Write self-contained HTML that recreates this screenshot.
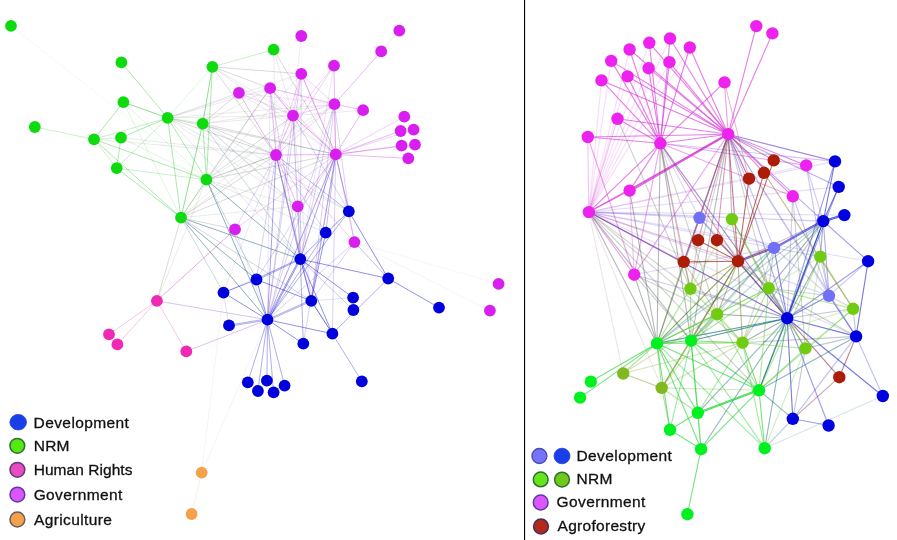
<!DOCTYPE html>
<html lang="en"><head><meta charset="utf-8"><title>Network</title>
<style>
html,body{margin:0;padding:0;background:#fff}
body{width:897px;height:540px;overflow:hidden;position:relative;font-family:"Liberation Sans",sans-serif}
svg{position:absolute;left:0;top:0;display:block}
.lg{position:absolute;font-size:15.5px;line-height:18px;color:#111;white-space:nowrap;letter-spacing:0.3px;-webkit-text-stroke:0.3px #111}
</style></head><body>
<svg width="897" height="540" viewBox="0 0 897 540">
<rect width="897" height="540" fill="#fff"/>

<g fill="none" stroke-width="0.9">
<line x1="11" y1="25.9" x2="206.4" y2="179.7" stroke="rgb(40,190,40)" stroke-opacity="0.08"/>
<line x1="121.4" y1="62.4" x2="167.6" y2="117.9" stroke="rgb(40,190,40)" stroke-opacity="0.42"/>
<line x1="212.4" y1="66.8" x2="273.6" y2="49.7" stroke="rgb(40,190,40)" stroke-opacity="0.28"/>
<line x1="212.4" y1="66.8" x2="167.6" y2="117.9" stroke="rgb(40,190,40)" stroke-opacity="0.16"/>
<line x1="212.4" y1="66.8" x2="202.7" y2="123.6" stroke="rgb(40,190,40)" stroke-opacity="0.58"/>
<line x1="212.4" y1="66.8" x2="206.4" y2="179.7" stroke="rgb(40,190,40)" stroke-opacity="0.42"/>
<line x1="212.4" y1="66.8" x2="301.3" y2="73.8" stroke="rgb(105,105,115)" stroke-opacity="0.28"/>
<line x1="212.4" y1="66.8" x2="270.1" y2="88.2" stroke="rgb(105,105,115)" stroke-opacity="0.28"/>
<line x1="273.6" y1="49.7" x2="335.7" y2="154.4" stroke="rgb(105,105,115)" stroke-opacity="0.28"/>
<line x1="123.4" y1="102.2" x2="167.6" y2="117.9" stroke="rgb(40,190,40)" stroke-opacity="0.58"/>
<line x1="123.4" y1="102.2" x2="94" y2="139.3" stroke="rgb(40,190,40)" stroke-opacity="0.42"/>
<line x1="123.4" y1="102.2" x2="181" y2="217.7" stroke="rgb(40,190,40)" stroke-opacity="0.16"/>
<line x1="123.4" y1="102.2" x2="206.4" y2="179.7" stroke="rgb(40,190,40)" stroke-opacity="0.16"/>
<line x1="34.8" y1="127" x2="94" y2="139.3" stroke="rgb(40,190,40)" stroke-opacity="0.28"/>
<line x1="94" y1="139.3" x2="121" y2="137.7" stroke="rgb(40,190,40)" stroke-opacity="0.28"/>
<line x1="94" y1="139.3" x2="167.6" y2="117.9" stroke="rgb(40,190,40)" stroke-opacity="0.28"/>
<line x1="94" y1="139.3" x2="206.4" y2="179.7" stroke="rgb(40,190,40)" stroke-opacity="0.42"/>
<line x1="94" y1="139.3" x2="116.7" y2="168.1" stroke="rgb(40,190,40)" stroke-opacity="0.28"/>
<line x1="94" y1="139.3" x2="181" y2="217.7" stroke="rgb(40,190,40)" stroke-opacity="0.42"/>
<line x1="121" y1="137.7" x2="167.6" y2="117.9" stroke="rgb(40,190,40)" stroke-opacity="0.42"/>
<line x1="121" y1="137.7" x2="116.7" y2="168.1" stroke="rgb(40,190,40)" stroke-opacity="0.42"/>
<line x1="121" y1="137.7" x2="206.4" y2="179.7" stroke="rgb(40,190,40)" stroke-opacity="0.16"/>
<line x1="167.6" y1="117.9" x2="116.7" y2="168.1" stroke="rgb(40,190,40)" stroke-opacity="0.28"/>
<line x1="167.6" y1="117.9" x2="206.4" y2="179.7" stroke="rgb(40,190,40)" stroke-opacity="0.42"/>
<line x1="167.6" y1="117.9" x2="181" y2="217.7" stroke="rgb(40,190,40)" stroke-opacity="0.42"/>
<line x1="167.6" y1="117.9" x2="202.7" y2="123.6" stroke="rgb(40,190,40)" stroke-opacity="0.28"/>
<line x1="202.7" y1="123.6" x2="206.4" y2="179.7" stroke="rgb(40,190,40)" stroke-opacity="0.42"/>
<line x1="202.7" y1="123.6" x2="181" y2="217.7" stroke="rgb(40,190,40)" stroke-opacity="0.58"/>
<line x1="116.7" y1="168.1" x2="206.4" y2="179.7" stroke="rgb(40,190,40)" stroke-opacity="0.28"/>
<line x1="116.7" y1="168.1" x2="181" y2="217.7" stroke="rgb(40,190,40)" stroke-opacity="0.42"/>
<line x1="206.4" y1="179.7" x2="181" y2="217.7" stroke="rgb(40,190,40)" stroke-opacity="0.42"/>
<line x1="167.6" y1="117.9" x2="276" y2="155" stroke="rgb(105,105,115)" stroke-opacity="0.28"/>
<line x1="167.6" y1="117.9" x2="335.7" y2="154.4" stroke="rgb(105,105,115)" stroke-opacity="0.28"/>
<line x1="167.6" y1="117.9" x2="293" y2="115.6" stroke="rgb(105,105,115)" stroke-opacity="0.16"/>
<line x1="167.6" y1="117.9" x2="270.1" y2="88.2" stroke="rgb(105,105,115)" stroke-opacity="0.16"/>
<line x1="202.7" y1="123.6" x2="276" y2="155" stroke="rgb(105,105,115)" stroke-opacity="0.28"/>
<line x1="202.7" y1="123.6" x2="335.7" y2="154.4" stroke="rgb(105,105,115)" stroke-opacity="0.28"/>
<line x1="202.7" y1="123.6" x2="238.9" y2="92.8" stroke="rgb(105,105,115)" stroke-opacity="0.28"/>
<line x1="202.7" y1="123.6" x2="293" y2="115.6" stroke="rgb(105,105,115)" stroke-opacity="0.16"/>
<line x1="206.4" y1="179.7" x2="270.1" y2="88.2" stroke="rgb(105,105,115)" stroke-opacity="0.28"/>
<line x1="206.4" y1="179.7" x2="276" y2="155" stroke="rgb(105,105,115)" stroke-opacity="0.42"/>
<line x1="206.4" y1="179.7" x2="335.7" y2="154.4" stroke="rgb(105,105,115)" stroke-opacity="0.28"/>
<line x1="206.4" y1="179.7" x2="293" y2="115.6" stroke="rgb(105,105,115)" stroke-opacity="0.28"/>
<line x1="206.4" y1="179.7" x2="297.7" y2="206.3" stroke="rgb(105,105,115)" stroke-opacity="0.16"/>
<line x1="206.4" y1="179.7" x2="300.3" y2="259.1" stroke="rgb(40,100,120)" stroke-opacity="0.58"/>
<line x1="206.4" y1="179.7" x2="267.5" y2="319.7" stroke="rgb(40,100,120)" stroke-opacity="0.58"/>
<line x1="206.4" y1="179.7" x2="256.5" y2="279.5" stroke="rgb(40,100,120)" stroke-opacity="0.28"/>
<line x1="206.4" y1="179.7" x2="156.9" y2="300.9" stroke="rgb(107,110,82)" stroke-opacity="0.16"/>
<line x1="206.4" y1="179.7" x2="325.7" y2="232.7" stroke="rgb(40,100,120)" stroke-opacity="0.16"/>
<line x1="181" y1="217.7" x2="276" y2="155" stroke="rgb(105,105,115)" stroke-opacity="0.28"/>
<line x1="181" y1="217.7" x2="335.7" y2="154.4" stroke="rgb(105,105,115)" stroke-opacity="0.28"/>
<line x1="181" y1="217.7" x2="235" y2="229.4" stroke="rgb(105,105,115)" stroke-opacity="0.28"/>
<line x1="181" y1="217.7" x2="300.3" y2="259.1" stroke="rgb(40,100,120)" stroke-opacity="0.58"/>
<line x1="181" y1="217.7" x2="256.5" y2="279.5" stroke="rgb(40,100,120)" stroke-opacity="0.58"/>
<line x1="181" y1="217.7" x2="267.5" y2="319.7" stroke="rgb(40,100,120)" stroke-opacity="0.58"/>
<line x1="181" y1="217.7" x2="223.5" y2="292.6" stroke="rgb(40,100,120)" stroke-opacity="0.28"/>
<line x1="181" y1="217.7" x2="156.9" y2="300.9" stroke="rgb(107,110,82)" stroke-opacity="0.28"/>
<line x1="181" y1="217.7" x2="311.3" y2="300.9" stroke="rgb(40,100,120)" stroke-opacity="0.28"/>
<line x1="181" y1="217.7" x2="297.7" y2="206.3" stroke="rgb(105,105,115)" stroke-opacity="0.16"/>
<line x1="121" y1="137.7" x2="276" y2="155" stroke="rgb(105,105,115)" stroke-opacity="0.16"/>
<line x1="94" y1="139.3" x2="276" y2="155" stroke="rgb(105,105,115)" stroke-opacity="0.16"/>
<line x1="301.3" y1="36" x2="293" y2="115.6" stroke="rgb(195,65,215)" stroke-opacity="0.16"/>
<line x1="301.3" y1="73.8" x2="335.7" y2="154.4" stroke="rgb(195,65,215)" stroke-opacity="0.58"/>
<line x1="301.3" y1="73.8" x2="276" y2="155" stroke="rgb(195,65,215)" stroke-opacity="0.28"/>
<line x1="301.3" y1="73.8" x2="334.4" y2="104.2" stroke="rgb(195,65,215)" stroke-opacity="0.28"/>
<line x1="334" y1="65.7" x2="334.4" y2="104.2" stroke="rgb(195,65,215)" stroke-opacity="0.16"/>
<line x1="334" y1="65.7" x2="276" y2="155" stroke="rgb(195,65,215)" stroke-opacity="0.28"/>
<line x1="381.2" y1="51.4" x2="334.4" y2="104.2" stroke="rgb(195,65,215)" stroke-opacity="0.42"/>
<line x1="399.3" y1="30.6" x2="381.2" y2="51.4" stroke="rgb(195,65,215)" stroke-opacity="0.16"/>
<line x1="334.4" y1="104.2" x2="363.1" y2="110.2" stroke="rgb(195,65,215)" stroke-opacity="0.28"/>
<line x1="334.4" y1="104.2" x2="335.7" y2="154.4" stroke="rgb(195,65,215)" stroke-opacity="0.42"/>
<line x1="334.4" y1="104.2" x2="276" y2="155" stroke="rgb(195,65,215)" stroke-opacity="0.28"/>
<line x1="334.4" y1="104.2" x2="293" y2="115.6" stroke="rgb(195,65,215)" stroke-opacity="0.28"/>
<line x1="363.1" y1="110.2" x2="335.7" y2="154.4" stroke="rgb(195,65,215)" stroke-opacity="0.42"/>
<line x1="363.1" y1="110.2" x2="293" y2="115.6" stroke="rgb(195,65,215)" stroke-opacity="0.16"/>
<line x1="270.1" y1="88.2" x2="293" y2="115.6" stroke="rgb(195,65,215)" stroke-opacity="0.58"/>
<line x1="270.1" y1="88.2" x2="276" y2="155" stroke="rgb(195,65,215)" stroke-opacity="0.42"/>
<line x1="270.1" y1="88.2" x2="335.7" y2="154.4" stroke="rgb(195,65,215)" stroke-opacity="0.28"/>
<line x1="238.9" y1="92.8" x2="276" y2="155" stroke="rgb(195,65,215)" stroke-opacity="0.42"/>
<line x1="238.9" y1="92.8" x2="335.7" y2="154.4" stroke="rgb(195,65,215)" stroke-opacity="0.16"/>
<line x1="293" y1="115.6" x2="276" y2="155" stroke="rgb(195,65,215)" stroke-opacity="0.42"/>
<line x1="293" y1="115.6" x2="335.7" y2="154.4" stroke="rgb(195,65,215)" stroke-opacity="0.58"/>
<line x1="293" y1="115.6" x2="297.7" y2="206.3" stroke="rgb(195,65,215)" stroke-opacity="0.16"/>
<line x1="276" y1="155" x2="335.7" y2="154.4" stroke="rgb(195,65,215)" stroke-opacity="0.42"/>
<line x1="335.7" y1="154.4" x2="404.3" y2="116.6" stroke="rgb(195,65,215)" stroke-opacity="0.28"/>
<line x1="335.7" y1="154.4" x2="400.6" y2="131" stroke="rgb(195,65,215)" stroke-opacity="0.42"/>
<line x1="335.7" y1="154.4" x2="413.6" y2="129.6" stroke="rgb(195,65,215)" stroke-opacity="0.28"/>
<line x1="335.7" y1="154.4" x2="401.6" y2="145.7" stroke="rgb(195,65,215)" stroke-opacity="0.42"/>
<line x1="335.7" y1="154.4" x2="415" y2="144.7" stroke="rgb(195,65,215)" stroke-opacity="0.28"/>
<line x1="335.7" y1="154.4" x2="408.3" y2="158.4" stroke="rgb(195,65,215)" stroke-opacity="0.42"/>
<line x1="335.7" y1="154.4" x2="297.7" y2="206.3" stroke="rgb(195,65,215)" stroke-opacity="0.42"/>
<line x1="276" y1="155" x2="297.7" y2="206.3" stroke="rgb(195,65,215)" stroke-opacity="0.42"/>
<line x1="335.7" y1="154.4" x2="235" y2="229.4" stroke="rgb(195,65,215)" stroke-opacity="0.28"/>
<line x1="335.7" y1="154.4" x2="348.8" y2="211.3" stroke="rgb(105,70,200)" stroke-opacity="0.58"/>
<line x1="276" y1="155" x2="348.8" y2="211.3" stroke="rgb(105,70,200)" stroke-opacity="0.42"/>
<line x1="335.7" y1="154.4" x2="300.3" y2="259.1" stroke="rgb(105,70,200)" stroke-opacity="0.58"/>
<line x1="335.7" y1="154.4" x2="267.5" y2="319.7" stroke="rgb(105,70,200)" stroke-opacity="0.58"/>
<line x1="335.7" y1="154.4" x2="256.5" y2="279.5" stroke="rgb(105,70,200)" stroke-opacity="0.28"/>
<line x1="335.7" y1="154.4" x2="311.3" y2="300.9" stroke="rgb(105,70,200)" stroke-opacity="0.42"/>
<line x1="335.7" y1="154.4" x2="325.7" y2="232.7" stroke="rgb(105,70,200)" stroke-opacity="0.42"/>
<line x1="335.7" y1="154.4" x2="303.3" y2="343.7" stroke="rgb(105,70,200)" stroke-opacity="0.28"/>
<line x1="335.7" y1="154.4" x2="332.4" y2="333.7" stroke="rgb(105,70,200)" stroke-opacity="0.28"/>
<line x1="335.7" y1="154.4" x2="354.4" y2="242.1" stroke="rgb(195,65,215)" stroke-opacity="0.28"/>
<line x1="276" y1="155" x2="300.3" y2="259.1" stroke="rgb(105,70,200)" stroke-opacity="0.58"/>
<line x1="276" y1="155" x2="267.5" y2="319.7" stroke="rgb(105,70,200)" stroke-opacity="0.58"/>
<line x1="276" y1="155" x2="256.5" y2="279.5" stroke="rgb(105,70,200)" stroke-opacity="0.28"/>
<line x1="276" y1="155" x2="311.3" y2="300.9" stroke="rgb(105,70,200)" stroke-opacity="0.42"/>
<line x1="276" y1="155" x2="325.7" y2="232.7" stroke="rgb(105,70,200)" stroke-opacity="0.28"/>
<line x1="276" y1="155" x2="354.4" y2="242.1" stroke="rgb(195,65,215)" stroke-opacity="0.28"/>
<line x1="276" y1="155" x2="223.5" y2="292.6" stroke="rgb(105,70,200)" stroke-opacity="0.16"/>
<line x1="276" y1="155" x2="235" y2="229.4" stroke="rgb(195,65,215)" stroke-opacity="0.28"/>
<line x1="293" y1="115.6" x2="300.3" y2="259.1" stroke="rgb(105,70,200)" stroke-opacity="0.28"/>
<line x1="293" y1="115.6" x2="267.5" y2="319.7" stroke="rgb(105,70,200)" stroke-opacity="0.28"/>
<line x1="334.4" y1="104.2" x2="300.3" y2="259.1" stroke="rgb(105,70,200)" stroke-opacity="0.28"/>
<line x1="334.4" y1="104.2" x2="267.5" y2="319.7" stroke="rgb(105,70,200)" stroke-opacity="0.28"/>
<line x1="270.1" y1="88.2" x2="267.5" y2="319.7" stroke="rgb(105,70,200)" stroke-opacity="0.16"/>
<line x1="297.7" y1="206.3" x2="300.3" y2="259.1" stroke="rgb(105,70,200)" stroke-opacity="0.28"/>
<line x1="297.7" y1="206.3" x2="267.5" y2="319.7" stroke="rgb(105,70,200)" stroke-opacity="0.28"/>
<line x1="297.7" y1="206.3" x2="311.3" y2="300.9" stroke="rgb(105,70,200)" stroke-opacity="0.16"/>
<line x1="235" y1="229.4" x2="156.9" y2="300.9" stroke="rgb(193,30,178)" stroke-opacity="0.42"/>
<line x1="235" y1="229.4" x2="267.5" y2="319.7" stroke="rgb(105,70,200)" stroke-opacity="0.16"/>
<line x1="354.4" y1="242.1" x2="388.2" y2="278.5" stroke="rgb(105,70,200)" stroke-opacity="0.42"/>
<line x1="354.4" y1="242.1" x2="348.8" y2="211.3" stroke="rgb(105,70,200)" stroke-opacity="0.28"/>
<line x1="354.4" y1="242.1" x2="311.3" y2="300.9" stroke="rgb(105,70,200)" stroke-opacity="0.28"/>
<line x1="354.4" y1="242.1" x2="267.5" y2="319.7" stroke="rgb(105,70,200)" stroke-opacity="0.28"/>
<line x1="354.4" y1="242.1" x2="498.6" y2="283.9" stroke="rgb(195,65,215)" stroke-opacity="0.08"/>
<line x1="354.4" y1="242.1" x2="489.9" y2="310.6" stroke="rgb(195,65,215)" stroke-opacity="0.08"/>
<line x1="348.8" y1="211.3" x2="325.7" y2="232.7" stroke="rgb(40,40,210)" stroke-opacity="0.28"/>
<line x1="348.8" y1="211.3" x2="388.2" y2="278.5" stroke="rgb(40,40,210)" stroke-opacity="0.58"/>
<line x1="348.8" y1="211.3" x2="300.3" y2="259.1" stroke="rgb(40,40,210)" stroke-opacity="0.28"/>
<line x1="325.7" y1="232.7" x2="300.3" y2="259.1" stroke="rgb(40,40,210)" stroke-opacity="0.28"/>
<line x1="325.7" y1="232.7" x2="311.3" y2="300.9" stroke="rgb(40,40,210)" stroke-opacity="0.58"/>
<line x1="325.7" y1="232.7" x2="267.5" y2="319.7" stroke="rgb(40,40,210)" stroke-opacity="0.42"/>
<line x1="348.8" y1="211.3" x2="267.5" y2="319.7" stroke="rgb(40,40,210)" stroke-opacity="0.42"/>
<line x1="299.9" y1="258.3" x2="256.4" y2="279.3" stroke="rgb(40,40,210)" stroke-opacity="0.42"/>
<line x1="300.4" y1="259.3" x2="256.9" y2="280.3" stroke="rgb(40,40,210)" stroke-opacity="0.42"/>
<line x1="300.3" y1="259.1" x2="388.2" y2="278.5" stroke="rgb(40,40,210)" stroke-opacity="0.58"/>
<line x1="300.3" y1="259.1" x2="311.3" y2="300.9" stroke="rgb(40,40,210)" stroke-opacity="0.58"/>
<line x1="300.3" y1="259.1" x2="353.1" y2="297.6" stroke="rgb(40,40,210)" stroke-opacity="0.58"/>
<line x1="300.3" y1="259.1" x2="353.4" y2="310" stroke="rgb(40,40,210)" stroke-opacity="0.28"/>
<line x1="299.5" y1="258.7" x2="267.3" y2="319.6" stroke="rgb(40,40,210)" stroke-opacity="0.58"/>
<line x1="300.5" y1="259.2" x2="268.3" y2="320.1" stroke="rgb(40,40,210)" stroke-opacity="0.58"/>
<line x1="300.3" y1="259.1" x2="332.4" y2="333.7" stroke="rgb(40,40,210)" stroke-opacity="0.58"/>
<line x1="300.3" y1="259.1" x2="303.3" y2="343.7" stroke="rgb(40,40,210)" stroke-opacity="0.42"/>
<line x1="300.3" y1="259.1" x2="223.5" y2="292.6" stroke="rgb(40,40,210)" stroke-opacity="0.16"/>
<line x1="256.5" y1="279.5" x2="223.5" y2="292.6" stroke="rgb(40,40,210)" stroke-opacity="0.58"/>
<line x1="256.5" y1="279.5" x2="311.3" y2="300.9" stroke="rgb(40,40,210)" stroke-opacity="0.58"/>
<line x1="256.5" y1="279.5" x2="267.5" y2="319.7" stroke="rgb(40,40,210)" stroke-opacity="0.58"/>
<line x1="223.5" y1="292.6" x2="267.5" y2="319.7" stroke="rgb(40,40,210)" stroke-opacity="0.58"/>
<line x1="223.5" y1="292.6" x2="229" y2="325.4" stroke="rgb(40,40,210)" stroke-opacity="0.16"/>
<line x1="267.4" y1="318.8" x2="229" y2="325.1" stroke="rgb(40,40,210)" stroke-opacity="0.42"/>
<line x1="267.5" y1="320" x2="229.1" y2="326.3" stroke="rgb(40,40,210)" stroke-opacity="0.42"/>
<line x1="267.9" y1="320.5" x2="311.4" y2="301.1" stroke="rgb(40,40,210)" stroke-opacity="0.42"/>
<line x1="267.4" y1="319.5" x2="310.9" y2="300.1" stroke="rgb(40,40,210)" stroke-opacity="0.42"/>
<line x1="267.5" y1="319.7" x2="332.4" y2="333.7" stroke="rgb(40,40,210)" stroke-opacity="0.58"/>
<line x1="267.5" y1="319.7" x2="303.3" y2="343.7" stroke="rgb(40,40,210)" stroke-opacity="0.58"/>
<line x1="267.5" y1="319.7" x2="247.8" y2="382.3" stroke="rgb(40,40,210)" stroke-opacity="0.42"/>
<line x1="267.5" y1="319.7" x2="257.9" y2="391" stroke="rgb(40,40,210)" stroke-opacity="0.42"/>
<line x1="267.5" y1="319.7" x2="266.9" y2="380.6" stroke="rgb(40,40,210)" stroke-opacity="0.42"/>
<line x1="267.5" y1="319.7" x2="273.6" y2="392.3" stroke="rgb(40,40,210)" stroke-opacity="0.42"/>
<line x1="267.5" y1="319.7" x2="284.6" y2="385.6" stroke="rgb(40,40,210)" stroke-opacity="0.42"/>
<line x1="267.5" y1="319.7" x2="156.9" y2="300.9" stroke="rgb(101,17,170)" stroke-opacity="0.28"/>
<line x1="267.5" y1="319.7" x2="186.3" y2="351.4" stroke="rgb(101,17,170)" stroke-opacity="0.28"/>
<line x1="311.3" y1="300.9" x2="332.4" y2="333.7" stroke="rgb(40,40,210)" stroke-opacity="0.75"/>
<line x1="311.3" y1="300.9" x2="353.1" y2="297.6" stroke="rgb(40,40,210)" stroke-opacity="0.16"/>
<line x1="332.4" y1="333.7" x2="388.2" y2="278.5" stroke="rgb(40,40,210)" stroke-opacity="0.42"/>
<line x1="332.4" y1="333.7" x2="361.8" y2="381.3" stroke="rgb(40,40,210)" stroke-opacity="0.42"/>
<line x1="388.2" y1="278.5" x2="439" y2="307.6" stroke="rgb(40,40,210)" stroke-opacity="0.58"/>
<line x1="167.6" y1="117.9" x2="334.4" y2="104.2" stroke="rgb(105,105,115)" stroke-opacity="0.16"/>
<line x1="202.7" y1="123.6" x2="334.4" y2="104.2" stroke="rgb(105,105,115)" stroke-opacity="0.16"/>
<line x1="167.6" y1="117.9" x2="301.3" y2="73.8" stroke="rgb(105,105,115)" stroke-opacity="0.16"/>
<line x1="202.7" y1="123.6" x2="270.1" y2="88.2" stroke="rgb(105,105,115)" stroke-opacity="0.16"/>
<line x1="167.6" y1="117.9" x2="238.9" y2="92.8" stroke="rgb(105,105,115)" stroke-opacity="0.16"/>
<line x1="238.9" y1="92.8" x2="293" y2="115.6" stroke="rgb(195,65,215)" stroke-opacity="0.28"/>
<line x1="238.9" y1="92.8" x2="334.4" y2="104.2" stroke="rgb(195,65,215)" stroke-opacity="0.16"/>
<line x1="270.1" y1="88.2" x2="334.4" y2="104.2" stroke="rgb(195,65,215)" stroke-opacity="0.28"/>
<line x1="270.1" y1="88.2" x2="363.1" y2="110.2" stroke="rgb(195,65,215)" stroke-opacity="0.16"/>
<line x1="301.3" y1="73.8" x2="293" y2="115.6" stroke="rgb(195,65,215)" stroke-opacity="0.28"/>
<line x1="334" y1="65.7" x2="293" y2="115.6" stroke="rgb(195,65,215)" stroke-opacity="0.28"/>
<line x1="334" y1="65.7" x2="335.7" y2="154.4" stroke="rgb(195,65,215)" stroke-opacity="0.28"/>
<line x1="301.3" y1="73.8" x2="300.3" y2="259.1" stroke="rgb(105,70,200)" stroke-opacity="0.28"/>
<line x1="301.3" y1="73.8" x2="267.5" y2="319.7" stroke="rgb(105,70,200)" stroke-opacity="0.28"/>
<line x1="270.1" y1="88.2" x2="300.3" y2="259.1" stroke="rgb(105,70,200)" stroke-opacity="0.28"/>
<line x1="334" y1="65.7" x2="300.3" y2="259.1" stroke="rgb(105,70,200)" stroke-opacity="0.16"/>
<line x1="293" y1="115.6" x2="311.3" y2="300.9" stroke="rgb(105,70,200)" stroke-opacity="0.16"/>
<line x1="293" y1="115.6" x2="348.8" y2="211.3" stroke="rgb(105,70,200)" stroke-opacity="0.28"/>
<line x1="334.4" y1="104.2" x2="348.8" y2="211.3" stroke="rgb(105,70,200)" stroke-opacity="0.28"/>
<line x1="334.4" y1="104.2" x2="311.3" y2="300.9" stroke="rgb(105,70,200)" stroke-opacity="0.28"/>
<line x1="202.7" y1="123.6" x2="348.8" y2="211.3" stroke="rgb(40,100,120)" stroke-opacity="0.16"/>
<line x1="167.6" y1="117.9" x2="348.8" y2="211.3" stroke="rgb(40,100,120)" stroke-opacity="0.16"/>
<line x1="202.7" y1="123.6" x2="300.3" y2="259.1" stroke="rgb(40,100,120)" stroke-opacity="0.28"/>
<line x1="167.6" y1="117.9" x2="300.3" y2="259.1" stroke="rgb(40,100,120)" stroke-opacity="0.16"/>
<line x1="202.7" y1="123.6" x2="325.7" y2="232.7" stroke="rgb(40,100,120)" stroke-opacity="0.16"/>
<line x1="167.6" y1="117.9" x2="297.7" y2="206.3" stroke="rgb(105,105,115)" stroke-opacity="0.16"/>
<line x1="202.7" y1="123.6" x2="297.7" y2="206.3" stroke="rgb(105,105,115)" stroke-opacity="0.16"/>
<line x1="181" y1="217.7" x2="293" y2="115.6" stroke="rgb(105,105,115)" stroke-opacity="0.16"/>
<line x1="181" y1="217.7" x2="334.4" y2="104.2" stroke="rgb(105,105,115)" stroke-opacity="0.16"/>
<line x1="181" y1="217.7" x2="270.1" y2="88.2" stroke="rgb(105,105,115)" stroke-opacity="0.16"/>
<line x1="206.4" y1="179.7" x2="334.4" y2="104.2" stroke="rgb(105,105,115)" stroke-opacity="0.16"/>
<line x1="206.4" y1="179.7" x2="301.3" y2="73.8" stroke="rgb(105,105,115)" stroke-opacity="0.16"/>
<line x1="212.4" y1="66.8" x2="293" y2="115.6" stroke="rgb(105,105,115)" stroke-opacity="0.16"/>
<line x1="212.4" y1="66.8" x2="276" y2="155" stroke="rgb(105,105,115)" stroke-opacity="0.28"/>
<line x1="212.4" y1="66.8" x2="335.7" y2="154.4" stroke="rgb(105,105,115)" stroke-opacity="0.16"/>
<line x1="273.6" y1="49.7" x2="293" y2="115.6" stroke="rgb(105,105,115)" stroke-opacity="0.16"/>
<line x1="273.6" y1="49.7" x2="276" y2="155" stroke="rgb(105,105,115)" stroke-opacity="0.16"/>
<line x1="156.9" y1="300.9" x2="109" y2="334.4" stroke="rgb(202,35,153)" stroke-opacity="0.28"/>
<line x1="156.9" y1="300.9" x2="117.4" y2="344.4" stroke="rgb(202,35,153)" stroke-opacity="0.28"/>
<line x1="156.9" y1="300.9" x2="186.3" y2="351.4" stroke="rgb(202,35,153)" stroke-opacity="0.28"/>
<line x1="201.7" y1="472.6" x2="267.5" y2="319.7" stroke="rgb(104,68,125)" stroke-opacity="0.08"/>
<line x1="201.7" y1="472.6" x2="223.5" y2="292.6" stroke="rgb(104,68,125)" stroke-opacity="0.08"/>
<line x1="201.7" y1="472.6" x2="191.6" y2="514" stroke="rgb(208,136,62)" stroke-opacity="0.16"/>
</g>
<g fill="none" stroke-width="1.1">
<line x1="670" y1="38.5" x2="660.3" y2="143.3" stroke="rgb(214,50,214)" stroke-opacity="0.626"/>
<line x1="670" y1="38.5" x2="728.2" y2="134.2" stroke="rgb(214,50,214)" stroke-opacity="0.626"/>
<line x1="670" y1="38.5" x2="588.8" y2="212.1" stroke="rgb(214,50,214)" stroke-opacity="0.173"/>
<line x1="649.3" y1="42.8" x2="660.3" y2="143.3" stroke="rgb(214,50,214)" stroke-opacity="0.626"/>
<line x1="649.3" y1="42.8" x2="728.2" y2="134.2" stroke="rgb(214,50,214)" stroke-opacity="0.626"/>
<line x1="649.3" y1="42.8" x2="588.8" y2="212.1" stroke="rgb(214,50,214)" stroke-opacity="0.173"/>
<line x1="629.6" y1="49.5" x2="660.3" y2="143.3" stroke="rgb(214,50,214)" stroke-opacity="0.626"/>
<line x1="629.6" y1="49.5" x2="728.2" y2="134.2" stroke="rgb(214,50,214)" stroke-opacity="0.626"/>
<line x1="629.6" y1="49.5" x2="588.8" y2="212.1" stroke="rgb(214,50,214)" stroke-opacity="0.173"/>
<line x1="689.8" y1="47.5" x2="660.3" y2="143.3" stroke="rgb(214,50,214)" stroke-opacity="0.626"/>
<line x1="689.8" y1="47.5" x2="728.2" y2="134.2" stroke="rgb(214,50,214)" stroke-opacity="0.626"/>
<line x1="689.8" y1="47.5" x2="588.8" y2="212.1" stroke="rgb(214,50,214)" stroke-opacity="0.173"/>
<line x1="611.2" y1="60.9" x2="660.3" y2="143.3" stroke="rgb(214,50,214)" stroke-opacity="0.626"/>
<line x1="611.2" y1="60.9" x2="728.2" y2="134.2" stroke="rgb(214,50,214)" stroke-opacity="0.626"/>
<line x1="611.2" y1="60.9" x2="588.8" y2="212.1" stroke="rgb(214,50,214)" stroke-opacity="0.173"/>
<line x1="669.4" y1="62.2" x2="660.3" y2="143.3" stroke="rgb(214,50,214)" stroke-opacity="0.626"/>
<line x1="669.4" y1="62.2" x2="728.2" y2="134.2" stroke="rgb(214,50,214)" stroke-opacity="0.626"/>
<line x1="669.4" y1="62.2" x2="588.8" y2="212.1" stroke="rgb(214,50,214)" stroke-opacity="0.173"/>
<line x1="648.6" y1="68.2" x2="660.3" y2="143.3" stroke="rgb(214,50,214)" stroke-opacity="0.626"/>
<line x1="648.6" y1="68.2" x2="728.2" y2="134.2" stroke="rgb(214,50,214)" stroke-opacity="0.626"/>
<line x1="648.6" y1="68.2" x2="588.8" y2="212.1" stroke="rgb(214,50,214)" stroke-opacity="0.173"/>
<line x1="627.6" y1="76.4" x2="660.3" y2="143.3" stroke="rgb(214,50,214)" stroke-opacity="0.626"/>
<line x1="627.6" y1="76.4" x2="728.2" y2="134.2" stroke="rgb(214,50,214)" stroke-opacity="0.626"/>
<line x1="627.6" y1="76.4" x2="588.8" y2="212.1" stroke="rgb(214,50,214)" stroke-opacity="0.173"/>
<line x1="601.5" y1="80.4" x2="660.3" y2="143.3" stroke="rgb(214,50,214)" stroke-opacity="0.626"/>
<line x1="601.5" y1="80.4" x2="728.2" y2="134.2" stroke="rgb(214,50,214)" stroke-opacity="0.626"/>
<line x1="601.5" y1="80.4" x2="588.8" y2="212.1" stroke="rgb(214,50,214)" stroke-opacity="0.173"/>
<line x1="724.5" y1="82.4" x2="660.3" y2="143.3" stroke="rgb(214,50,214)" stroke-opacity="0.626"/>
<line x1="724.5" y1="82.4" x2="728.2" y2="134.2" stroke="rgb(214,50,214)" stroke-opacity="0.454"/>
<line x1="724.5" y1="82.4" x2="749" y2="178.7" stroke="rgb(174,26,103)" stroke-opacity="0.302"/>
<line x1="756.3" y1="26.1" x2="728.2" y2="134.2" stroke="rgb(214,50,214)" stroke-opacity="0.626"/>
<line x1="772.4" y1="33.4" x2="728.2" y2="134.2" stroke="rgb(214,50,214)" stroke-opacity="0.626"/>
<line x1="617.5" y1="118.8" x2="660.3" y2="143.3" stroke="rgb(214,50,214)" stroke-opacity="0.626"/>
<line x1="617.5" y1="118.8" x2="728.2" y2="134.2" stroke="rgb(214,50,214)" stroke-opacity="0.626"/>
<line x1="617.5" y1="118.8" x2="588.8" y2="212.1" stroke="rgb(214,50,214)" stroke-opacity="0.302"/>
<line x1="617.5" y1="118.8" x2="690.4" y2="288.8" stroke="rgb(100,105,90)" stroke-opacity="0.302"/>
<line x1="587.8" y1="137" x2="660.3" y2="143.3" stroke="rgb(214,50,214)" stroke-opacity="0.626"/>
<line x1="587.8" y1="137" x2="728.2" y2="134.2" stroke="rgb(214,50,214)" stroke-opacity="0.626"/>
<line x1="587.8" y1="137" x2="588.8" y2="212.1" stroke="rgb(214,50,214)" stroke-opacity="0.302"/>
<line x1="587.8" y1="137" x2="634.2" y2="274.7" stroke="rgb(214,50,214)" stroke-opacity="0.454"/>
<line x1="660.3" y1="143.3" x2="728.2" y2="134.2" stroke="rgb(214,50,214)" stroke-opacity="0.626"/>
<line x1="660.3" y1="143.3" x2="629.6" y2="190.6" stroke="rgb(214,50,214)" stroke-opacity="0.626"/>
<line x1="660.3" y1="143.3" x2="588.8" y2="212.1" stroke="rgb(214,50,214)" stroke-opacity="0.626"/>
<line x1="727.8" y1="133.5" x2="629.5" y2="190.4" stroke="rgb(214,50,214)" stroke-opacity="0.81"/>
<line x1="728.3" y1="134.5" x2="630" y2="191.4" stroke="rgb(214,50,214)" stroke-opacity="0.81"/>
<line x1="728.2" y1="134.2" x2="588.8" y2="212.1" stroke="rgb(214,50,214)" stroke-opacity="0.626"/>
<line x1="588.8" y1="212.1" x2="629.6" y2="190.6" stroke="rgb(214,50,214)" stroke-opacity="0.626"/>
<line x1="660.3" y1="143.3" x2="657" y2="343.4" stroke="rgb(90,100,100)" stroke-opacity="0.454"/>
<line x1="660.3" y1="143.3" x2="691.1" y2="340.7" stroke="rgb(90,100,100)" stroke-opacity="0.454"/>
<line x1="660.3" y1="143.3" x2="738" y2="261.2" stroke="rgb(174,26,103)" stroke-opacity="0.454"/>
<line x1="660.3" y1="143.3" x2="787.2" y2="318.2" stroke="rgb(105,70,205)" stroke-opacity="0.626"/>
<line x1="660.3" y1="143.3" x2="634.2" y2="274.7" stroke="rgb(214,50,214)" stroke-opacity="0.454"/>
<line x1="660.3" y1="143.3" x2="699.5" y2="217.8" stroke="rgb(140,120,235)" stroke-opacity="0.302"/>
<line x1="660.3" y1="143.3" x2="690.4" y2="288.8" stroke="rgb(100,105,90)" stroke-opacity="0.302"/>
<line x1="660.3" y1="143.3" x2="683.7" y2="261.9" stroke="rgb(174,26,103)" stroke-opacity="0.302"/>
<line x1="660.3" y1="143.3" x2="717.2" y2="314.2" stroke="rgb(100,105,90)" stroke-opacity="0.302"/>
<line x1="660.3" y1="143.3" x2="792.8" y2="196.3" stroke="rgb(214,50,214)" stroke-opacity="0.454"/>
<line x1="660.3" y1="143.3" x2="806.2" y2="165.4" stroke="rgb(214,50,214)" stroke-opacity="0.454"/>
<line x1="660.3" y1="143.3" x2="835" y2="161.4" stroke="rgb(105,70,205)" stroke-opacity="0.302"/>
<line x1="728.2" y1="134.2" x2="835" y2="161.4" stroke="rgb(105,70,205)" stroke-opacity="0.626"/>
<line x1="728.2" y1="134.2" x2="806.2" y2="165.4" stroke="rgb(214,50,214)" stroke-opacity="0.626"/>
<line x1="728.2" y1="134.2" x2="838.7" y2="186.9" stroke="rgb(105,70,205)" stroke-opacity="0.454"/>
<line x1="728.2" y1="134.2" x2="792.8" y2="196.3" stroke="rgb(214,50,214)" stroke-opacity="0.626"/>
<line x1="728.2" y1="134.2" x2="823.3" y2="221.1" stroke="rgb(105,70,205)" stroke-opacity="0.454"/>
<line x1="728.2" y1="134.2" x2="773.7" y2="160.4" stroke="rgb(174,26,103)" stroke-opacity="0.454"/>
<line x1="728.2" y1="134.2" x2="764" y2="172.8" stroke="rgb(174,26,103)" stroke-opacity="0.454"/>
<line x1="728.2" y1="134.2" x2="749" y2="178.7" stroke="rgb(174,26,103)" stroke-opacity="0.626"/>
<line x1="728.2" y1="134.2" x2="731.9" y2="219.1" stroke="rgb(100,105,90)" stroke-opacity="0.454"/>
<line x1="728.2" y1="134.2" x2="699.5" y2="217.8" stroke="rgb(140,120,235)" stroke-opacity="0.454"/>
<line x1="728.2" y1="134.2" x2="698.1" y2="240.2" stroke="rgb(174,26,103)" stroke-opacity="0.454"/>
<line x1="728.2" y1="134.2" x2="716.9" y2="240.2" stroke="rgb(174,26,103)" stroke-opacity="0.454"/>
<line x1="728.2" y1="134.2" x2="683.7" y2="261.9" stroke="rgb(174,26,103)" stroke-opacity="0.454"/>
<line x1="728.2" y1="134.2" x2="738" y2="261.2" stroke="rgb(174,26,103)" stroke-opacity="0.626"/>
<line x1="728.2" y1="134.2" x2="657" y2="343.4" stroke="rgb(90,100,100)" stroke-opacity="0.454"/>
<line x1="728.2" y1="134.2" x2="691.1" y2="340.7" stroke="rgb(90,100,100)" stroke-opacity="0.454"/>
<line x1="728.2" y1="134.2" x2="690.4" y2="288.8" stroke="rgb(100,105,90)" stroke-opacity="0.302"/>
<line x1="728.2" y1="134.2" x2="787.2" y2="318.2" stroke="rgb(105,70,205)" stroke-opacity="0.454"/>
<line x1="728.2" y1="134.2" x2="774" y2="247.9" stroke="rgb(140,120,235)" stroke-opacity="0.454"/>
<line x1="728.2" y1="134.2" x2="829" y2="295.8" stroke="rgb(140,120,235)" stroke-opacity="0.302"/>
<line x1="728.2" y1="134.2" x2="856.1" y2="336.4" stroke="rgb(105,70,205)" stroke-opacity="0.302"/>
<line x1="728.2" y1="134.2" x2="634.2" y2="274.7" stroke="rgb(214,50,214)" stroke-opacity="0.454"/>
<line x1="728.2" y1="134.2" x2="768.7" y2="288.1" stroke="rgb(100,105,90)" stroke-opacity="0.302"/>
<line x1="806.2" y1="165.4" x2="829" y2="295.8" stroke="rgb(140,120,235)" stroke-opacity="0.454"/>
<line x1="806.2" y1="165.4" x2="823.3" y2="221.1" stroke="rgb(105,70,205)" stroke-opacity="0.302"/>
<line x1="792.8" y1="196.3" x2="829" y2="295.8" stroke="rgb(140,120,235)" stroke-opacity="0.454"/>
<line x1="792.8" y1="196.3" x2="805.4" y2="348.4" stroke="rgb(100,105,90)" stroke-opacity="0.302"/>
<line x1="792.8" y1="196.3" x2="787.2" y2="318.2" stroke="rgb(105,70,205)" stroke-opacity="0.302"/>
<line x1="588.8" y1="212.1" x2="699.5" y2="217.8" stroke="rgb(140,120,235)" stroke-opacity="0.302"/>
<line x1="588.8" y1="212.1" x2="774" y2="247.9" stroke="rgb(140,120,235)" stroke-opacity="0.302"/>
<line x1="588.8" y1="212.1" x2="823.3" y2="221.1" stroke="rgb(105,70,205)" stroke-opacity="0.302"/>
<line x1="588.8" y1="212.1" x2="829" y2="295.8" stroke="rgb(140,120,235)" stroke-opacity="0.302"/>
<line x1="588.8" y1="212.1" x2="844.4" y2="215.1" stroke="rgb(105,70,205)" stroke-opacity="0.173"/>
<line x1="588.8" y1="212.1" x2="838.7" y2="186.9" stroke="rgb(105,70,205)" stroke-opacity="0.173"/>
<line x1="588.8" y1="212.1" x2="868.1" y2="261.2" stroke="rgb(105,70,205)" stroke-opacity="0.173"/>
<line x1="588.8" y1="212.1" x2="856.1" y2="336.4" stroke="rgb(105,70,205)" stroke-opacity="0.173"/>
<line x1="588.8" y1="212.1" x2="787.2" y2="318.2" stroke="rgb(105,70,205)" stroke-opacity="0.81"/>
<line x1="588.8" y1="212.1" x2="657" y2="343.4" stroke="rgb(90,100,100)" stroke-opacity="0.454"/>
<line x1="588.8" y1="212.1" x2="691.1" y2="340.7" stroke="rgb(90,100,100)" stroke-opacity="0.454"/>
<line x1="588.8" y1="212.1" x2="634.2" y2="274.7" stroke="rgb(214,50,214)" stroke-opacity="0.454"/>
<line x1="588.8" y1="212.1" x2="623.2" y2="373.5" stroke="rgb(155,92,114)" stroke-opacity="0.173"/>
<line x1="588.8" y1="212.1" x2="661.7" y2="387.9" stroke="rgb(155,92,114)" stroke-opacity="0.173"/>
<line x1="588.8" y1="212.1" x2="690.4" y2="288.8" stroke="rgb(100,105,90)" stroke-opacity="0.302"/>
<line x1="588.8" y1="212.1" x2="683.7" y2="261.9" stroke="rgb(174,26,103)" stroke-opacity="0.302"/>
<line x1="588.8" y1="212.1" x2="738" y2="261.2" stroke="rgb(174,26,103)" stroke-opacity="0.302"/>
<line x1="588.8" y1="212.1" x2="742.5" y2="342.7" stroke="rgb(100,105,90)" stroke-opacity="0.302"/>
<line x1="588.8" y1="212.1" x2="759" y2="390.3" stroke="rgb(90,100,100)" stroke-opacity="0.302"/>
<line x1="588.8" y1="212.1" x2="835" y2="161.4" stroke="rgb(105,70,205)" stroke-opacity="0.173"/>
<line x1="588.8" y1="212.1" x2="806.2" y2="165.4" stroke="rgb(214,50,214)" stroke-opacity="0.173"/>
<line x1="629.6" y1="190.6" x2="657" y2="343.4" stroke="rgb(90,100,100)" stroke-opacity="0.454"/>
<line x1="629.6" y1="190.6" x2="634.2" y2="274.7" stroke="rgb(214,50,214)" stroke-opacity="0.302"/>
<line x1="634.2" y1="274.7" x2="657" y2="343.4" stroke="rgb(90,100,100)" stroke-opacity="0.454"/>
<line x1="634.2" y1="274.7" x2="691.1" y2="340.7" stroke="rgb(90,100,100)" stroke-opacity="0.302"/>
<line x1="634.2" y1="274.7" x2="774" y2="247.9" stroke="rgb(140,120,235)" stroke-opacity="0.302"/>
<line x1="634.2" y1="274.7" x2="787.2" y2="318.2" stroke="rgb(105,70,205)" stroke-opacity="0.302"/>
<line x1="634.2" y1="274.7" x2="717.2" y2="314.2" stroke="rgb(100,105,90)" stroke-opacity="0.302"/>
<line x1="773.7" y1="160.4" x2="738" y2="261.2" stroke="rgb(146,23,5)" stroke-opacity="0.626"/>
<line x1="764" y1="172.8" x2="738" y2="261.2" stroke="rgb(146,23,5)" stroke-opacity="0.626"/>
<line x1="749" y1="178.7" x2="738" y2="261.2" stroke="rgb(146,23,5)" stroke-opacity="0.626"/>
<line x1="698.1" y1="240.2" x2="738" y2="261.2" stroke="rgb(146,23,5)" stroke-opacity="0.626"/>
<line x1="716.9" y1="240.2" x2="738" y2="261.2" stroke="rgb(146,23,5)" stroke-opacity="0.626"/>
<line x1="683.7" y1="261.9" x2="738" y2="261.2" stroke="rgb(146,23,5)" stroke-opacity="0.626"/>
<line x1="738.3" y1="262.1" x2="774.1" y2="248.2" stroke="rgb(95,50,150)" stroke-opacity="0.81"/>
<line x1="737.9" y1="261" x2="773.7" y2="247.1" stroke="rgb(95,50,150)" stroke-opacity="0.81"/>
<line x1="738" y1="261.2" x2="787.2" y2="318.2" stroke="rgb(135,55,80)" stroke-opacity="0.81"/>
<line x1="738" y1="261.2" x2="768.7" y2="288.1" stroke="rgb(120,98,9)" stroke-opacity="0.454"/>
<line x1="738" y1="261.2" x2="731.9" y2="219.1" stroke="rgb(120,98,9)" stroke-opacity="0.454"/>
<line x1="738" y1="261.2" x2="657" y2="343.4" stroke="rgb(73,113,16)" stroke-opacity="0.626"/>
<line x1="738" y1="261.2" x2="691.1" y2="340.7" stroke="rgb(73,113,16)" stroke-opacity="0.626"/>
<line x1="738" y1="261.2" x2="717.2" y2="314.2" stroke="rgb(120,98,9)" stroke-opacity="0.454"/>
<line x1="738" y1="261.2" x2="742.5" y2="342.7" stroke="rgb(120,98,9)" stroke-opacity="0.454"/>
<line x1="738" y1="261.2" x2="690.4" y2="288.8" stroke="rgb(120,98,9)" stroke-opacity="0.454"/>
<line x1="738" y1="261.2" x2="823.3" y2="221.1" stroke="rgb(135,55,80)" stroke-opacity="0.302"/>
<line x1="738" y1="261.2" x2="661.7" y2="387.9" stroke="rgb(127,90,16)" stroke-opacity="0.454"/>
<line x1="683.7" y1="261.9" x2="699.5" y2="217.8" stroke="rgb(95,50,150)" stroke-opacity="0.454"/>
<line x1="683.7" y1="261.9" x2="690.4" y2="288.8" stroke="rgb(120,98,9)" stroke-opacity="0.454"/>
<line x1="683.7" y1="261.9" x2="657" y2="343.4" stroke="rgb(73,113,16)" stroke-opacity="0.454"/>
<line x1="683.7" y1="261.9" x2="717.2" y2="314.2" stroke="rgb(120,98,9)" stroke-opacity="0.302"/>
<line x1="698.1" y1="240.2" x2="690.4" y2="288.8" stroke="rgb(120,98,9)" stroke-opacity="0.302"/>
<line x1="716.9" y1="240.2" x2="717.2" y2="314.2" stroke="rgb(120,98,9)" stroke-opacity="0.302"/>
<line x1="764" y1="172.8" x2="853.1" y2="308.8" stroke="rgb(120,98,9)" stroke-opacity="0.454"/>
<line x1="839.3" y1="377.2" x2="787.2" y2="318.2" stroke="rgb(135,55,80)" stroke-opacity="0.626"/>
<line x1="839.3" y1="377.2" x2="856.1" y2="336.4" stroke="rgb(135,55,80)" stroke-opacity="0.626"/>
<line x1="839.3" y1="377.2" x2="792.8" y2="418.8" stroke="rgb(135,55,80)" stroke-opacity="0.454"/>
<line x1="835" y1="161.4" x2="823.3" y2="221.1" stroke="rgb(40,40,205)" stroke-opacity="0.626"/>
<line x1="838.7" y1="186.9" x2="823.3" y2="221.1" stroke="rgb(40,40,205)" stroke-opacity="0.626"/>
<line x1="844.2" y1="214.2" x2="823.2" y2="220.8" stroke="rgb(40,40,205)" stroke-opacity="0.81"/>
<line x1="844.5" y1="215.3" x2="823.5" y2="221.9" stroke="rgb(40,40,205)" stroke-opacity="0.81"/>
<line x1="822.9" y1="220.3" x2="773.9" y2="247.7" stroke="rgb(70,70,220)" stroke-opacity="0.81"/>
<line x1="823.4" y1="221.3" x2="774.4" y2="248.7" stroke="rgb(70,70,220)" stroke-opacity="0.81"/>
<line x1="823.3" y1="221.1" x2="787.2" y2="318.2" stroke="rgb(40,40,205)" stroke-opacity="0.81"/>
<line x1="823.3" y1="221.1" x2="868.1" y2="261.2" stroke="rgb(40,40,205)" stroke-opacity="0.454"/>
<line x1="823.3" y1="221.1" x2="820.3" y2="256.6" stroke="rgb(47,86,102)" stroke-opacity="0.454"/>
<line x1="823.3" y1="221.1" x2="829" y2="295.8" stroke="rgb(70,70,220)" stroke-opacity="0.454"/>
<line x1="823.3" y1="221.1" x2="759" y2="390.3" stroke="rgb(0,102,108)" stroke-opacity="0.454"/>
<line x1="823.3" y1="221.1" x2="768.7" y2="288.1" stroke="rgb(47,86,102)" stroke-opacity="0.454"/>
<line x1="823.3" y1="221.1" x2="657" y2="343.4" stroke="rgb(0,102,108)" stroke-opacity="0.302"/>
<line x1="823.3" y1="221.1" x2="691.1" y2="340.7" stroke="rgb(0,102,108)" stroke-opacity="0.302"/>
<line x1="823.3" y1="221.1" x2="742.5" y2="342.7" stroke="rgb(47,86,102)" stroke-opacity="0.302"/>
<line x1="838.7" y1="186.9" x2="787.2" y2="318.2" stroke="rgb(40,40,205)" stroke-opacity="0.454"/>
<line x1="835" y1="161.4" x2="787.2" y2="318.2" stroke="rgb(40,40,205)" stroke-opacity="0.454"/>
<line x1="868.1" y1="261.2" x2="856.1" y2="336.4" stroke="rgb(40,40,205)" stroke-opacity="0.626"/>
<line x1="868.1" y1="261.2" x2="787.2" y2="318.2" stroke="rgb(40,40,205)" stroke-opacity="0.454"/>
<line x1="868.1" y1="261.2" x2="829" y2="295.8" stroke="rgb(70,70,220)" stroke-opacity="0.302"/>
<line x1="787.2" y1="318.2" x2="856.1" y2="336.4" stroke="rgb(40,40,205)" stroke-opacity="0.626"/>
<line x1="787.2" y1="318.2" x2="882.8" y2="396" stroke="rgb(40,40,205)" stroke-opacity="0.626"/>
<line x1="787.2" y1="318.2" x2="829" y2="295.8" stroke="rgb(70,70,220)" stroke-opacity="0.626"/>
<line x1="787.2" y1="318.2" x2="853.1" y2="308.8" stroke="rgb(47,86,102)" stroke-opacity="0.302"/>
<line x1="787.2" y1="318.2" x2="805.4" y2="348.4" stroke="rgb(47,86,102)" stroke-opacity="0.454"/>
<line x1="787.2" y1="318.2" x2="828.6" y2="425.5" stroke="rgb(40,40,205)" stroke-opacity="0.454"/>
<line x1="787.2" y1="318.2" x2="792.8" y2="418.8" stroke="rgb(40,40,205)" stroke-opacity="0.626"/>
<line x1="787.2" y1="318.2" x2="774" y2="247.9" stroke="rgb(70,70,220)" stroke-opacity="0.626"/>
<line x1="787.2" y1="318.2" x2="768.7" y2="288.1" stroke="rgb(47,86,102)" stroke-opacity="0.454"/>
<line x1="787.2" y1="318.2" x2="820.3" y2="256.6" stroke="rgb(47,86,102)" stroke-opacity="0.454"/>
<line x1="787.2" y1="318.2" x2="657" y2="343.4" stroke="rgb(0,102,108)" stroke-opacity="0.626"/>
<line x1="787.2" y1="318.2" x2="691.1" y2="340.7" stroke="rgb(0,102,108)" stroke-opacity="0.626"/>
<line x1="787.2" y1="318.2" x2="717.2" y2="314.2" stroke="rgb(47,86,102)" stroke-opacity="0.454"/>
<line x1="787.2" y1="318.2" x2="742.5" y2="342.7" stroke="rgb(47,86,102)" stroke-opacity="0.454"/>
<line x1="787.2" y1="318.2" x2="759" y2="390.3" stroke="rgb(0,102,108)" stroke-opacity="0.626"/>
<line x1="787.2" y1="318.2" x2="697.8" y2="412.8" stroke="rgb(0,102,108)" stroke-opacity="0.454"/>
<line x1="787.2" y1="318.2" x2="701.1" y2="449.2" stroke="rgb(0,102,108)" stroke-opacity="0.454"/>
<line x1="787.2" y1="318.2" x2="764.7" y2="448.2" stroke="rgb(0,102,108)" stroke-opacity="0.454"/>
<line x1="787.2" y1="318.2" x2="690.4" y2="288.8" stroke="rgb(47,86,102)" stroke-opacity="0.302"/>
<line x1="787.2" y1="318.2" x2="699.5" y2="217.8" stroke="rgb(70,70,220)" stroke-opacity="0.454"/>
<line x1="787.2" y1="318.2" x2="731.9" y2="219.1" stroke="rgb(47,86,102)" stroke-opacity="0.302"/>
<line x1="856.1" y1="336.4" x2="829" y2="295.8" stroke="rgb(70,70,220)" stroke-opacity="0.626"/>
<line x1="856.1" y1="336.4" x2="882.8" y2="396" stroke="rgb(40,40,205)" stroke-opacity="0.302"/>
<line x1="856.1" y1="336.4" x2="853.1" y2="308.8" stroke="rgb(47,86,102)" stroke-opacity="0.302"/>
<line x1="856.1" y1="336.4" x2="759" y2="390.3" stroke="rgb(0,102,108)" stroke-opacity="0.454"/>
<line x1="856.1" y1="336.4" x2="742.5" y2="342.7" stroke="rgb(47,86,102)" stroke-opacity="0.302"/>
<line x1="856.1" y1="336.4" x2="805.4" y2="348.4" stroke="rgb(47,86,102)" stroke-opacity="0.302"/>
<line x1="856.1" y1="336.4" x2="792.8" y2="418.8" stroke="rgb(40,40,205)" stroke-opacity="0.302"/>
<line x1="856.1" y1="336.4" x2="768.7" y2="288.1" stroke="rgb(47,86,102)" stroke-opacity="0.302"/>
<line x1="792.8" y1="418.8" x2="828.6" y2="425.5" stroke="rgb(40,40,205)" stroke-opacity="0.454"/>
<line x1="792.8" y1="418.8" x2="759" y2="390.3" stroke="rgb(0,102,108)" stroke-opacity="0.454"/>
<line x1="792.8" y1="418.8" x2="764.7" y2="448.2" stroke="rgb(0,102,108)" stroke-opacity="0.302"/>
<line x1="792.8" y1="418.8" x2="805.4" y2="348.4" stroke="rgb(47,86,102)" stroke-opacity="0.302"/>
<line x1="882.8" y1="396" x2="764.7" y2="448.2" stroke="rgb(0,102,108)" stroke-opacity="0.173"/>
<line x1="774" y1="247.9" x2="820.3" y2="256.6" stroke="rgb(95,134,111)" stroke-opacity="0.302"/>
<line x1="774" y1="247.9" x2="768.7" y2="288.1" stroke="rgb(95,134,111)" stroke-opacity="0.454"/>
<line x1="774" y1="247.9" x2="657" y2="343.4" stroke="rgb(47,149,118)" stroke-opacity="0.454"/>
<line x1="774" y1="247.9" x2="691.1" y2="340.7" stroke="rgb(47,149,118)" stroke-opacity="0.454"/>
<line x1="774" y1="247.9" x2="742.5" y2="342.7" stroke="rgb(95,134,111)" stroke-opacity="0.302"/>
<line x1="774" y1="247.9" x2="829" y2="295.8" stroke="rgb(95,95,209)" stroke-opacity="0.302"/>
<line x1="774" y1="247.9" x2="717.2" y2="314.2" stroke="rgb(95,134,111)" stroke-opacity="0.302"/>
<line x1="829" y1="295.8" x2="853.1" y2="308.8" stroke="rgb(95,134,111)" stroke-opacity="0.302"/>
<line x1="829" y1="295.8" x2="820.3" y2="256.6" stroke="rgb(95,134,111)" stroke-opacity="0.302"/>
<line x1="829" y1="295.8" x2="768.7" y2="288.1" stroke="rgb(95,134,111)" stroke-opacity="0.302"/>
<line x1="699.5" y1="217.8" x2="768.7" y2="288.1" stroke="rgb(95,134,111)" stroke-opacity="0.302"/>
<line x1="699.5" y1="217.8" x2="774" y2="247.9" stroke="rgb(95,95,209)" stroke-opacity="0.302"/>
<line x1="731.9" y1="219.1" x2="768.7" y2="288.1" stroke="rgb(110,195,30)" stroke-opacity="0.626"/>
<line x1="731.9" y1="219.1" x2="690.4" y2="288.8" stroke="rgb(110,195,30)" stroke-opacity="0.302"/>
<line x1="820.3" y1="256.6" x2="768.7" y2="288.1" stroke="rgb(110,195,30)" stroke-opacity="0.302"/>
<line x1="820.3" y1="256.6" x2="853.1" y2="308.8" stroke="rgb(110,195,30)" stroke-opacity="0.454"/>
<line x1="820.3" y1="256.6" x2="805.4" y2="348.4" stroke="rgb(110,195,30)" stroke-opacity="0.302"/>
<line x1="820.3" y1="256.6" x2="759" y2="390.3" stroke="rgb(70,200,40)" stroke-opacity="0.454"/>
<line x1="768.7" y1="288.1" x2="742.5" y2="342.7" stroke="rgb(110,195,30)" stroke-opacity="0.454"/>
<line x1="768.7" y1="288.1" x2="805.4" y2="348.4" stroke="rgb(110,195,30)" stroke-opacity="0.454"/>
<line x1="768.7" y1="288.1" x2="759" y2="390.3" stroke="rgb(70,200,40)" stroke-opacity="0.454"/>
<line x1="768.7" y1="288.1" x2="717.2" y2="314.2" stroke="rgb(110,195,30)" stroke-opacity="0.302"/>
<line x1="768.7" y1="288.1" x2="691.1" y2="340.7" stroke="rgb(70,200,40)" stroke-opacity="0.454"/>
<line x1="768.7" y1="288.1" x2="657" y2="343.4" stroke="rgb(70,200,40)" stroke-opacity="0.454"/>
<line x1="768.7" y1="288.1" x2="853.1" y2="308.8" stroke="rgb(110,195,30)" stroke-opacity="0.454"/>
<line x1="690.4" y1="288.8" x2="657" y2="343.4" stroke="rgb(70,200,40)" stroke-opacity="0.454"/>
<line x1="690.4" y1="288.8" x2="691.1" y2="340.7" stroke="rgb(70,200,40)" stroke-opacity="0.454"/>
<line x1="690.4" y1="288.8" x2="717.2" y2="314.2" stroke="rgb(110,195,30)" stroke-opacity="0.302"/>
<line x1="690.4" y1="288.8" x2="742.5" y2="342.7" stroke="rgb(110,195,30)" stroke-opacity="0.302"/>
<line x1="717.2" y1="314.2" x2="657" y2="343.4" stroke="rgb(70,200,40)" stroke-opacity="0.626"/>
<line x1="717.2" y1="314.2" x2="691.1" y2="340.7" stroke="rgb(70,200,40)" stroke-opacity="0.626"/>
<line x1="717.2" y1="314.2" x2="742.5" y2="342.7" stroke="rgb(110,195,30)" stroke-opacity="0.454"/>
<line x1="717.2" y1="314.2" x2="759" y2="390.3" stroke="rgb(70,200,40)" stroke-opacity="0.454"/>
<line x1="742.5" y1="342.7" x2="657" y2="343.4" stroke="rgb(70,200,40)" stroke-opacity="0.626"/>
<line x1="742.5" y1="342.7" x2="691.1" y2="340.7" stroke="rgb(70,200,40)" stroke-opacity="0.626"/>
<line x1="742.5" y1="342.7" x2="759" y2="390.3" stroke="rgb(70,200,40)" stroke-opacity="0.626"/>
<line x1="742.5" y1="342.7" x2="805.4" y2="348.4" stroke="rgb(110,195,30)" stroke-opacity="0.454"/>
<line x1="742.5" y1="342.7" x2="697.8" y2="412.8" stroke="rgb(70,200,40)" stroke-opacity="0.454"/>
<line x1="742.5" y1="342.7" x2="764.7" y2="448.2" stroke="rgb(70,200,40)" stroke-opacity="0.454"/>
<line x1="742.5" y1="342.7" x2="661.7" y2="387.9" stroke="rgb(102,164,20)" stroke-opacity="0.302"/>
<line x1="805.4" y1="348.4" x2="759" y2="390.3" stroke="rgb(70,200,40)" stroke-opacity="0.454"/>
<line x1="805.4" y1="348.4" x2="853.1" y2="308.8" stroke="rgb(110,195,30)" stroke-opacity="0.302"/>
<line x1="805.4" y1="348.4" x2="764.7" y2="448.2" stroke="rgb(70,200,40)" stroke-opacity="0.302"/>
<line x1="853.1" y1="308.8" x2="759" y2="390.3" stroke="rgb(70,200,40)" stroke-opacity="0.454"/>
<line x1="853.1" y1="308.8" x2="742.5" y2="342.7" stroke="rgb(110,195,30)" stroke-opacity="0.302"/>
<line x1="657" y1="343.4" x2="691.1" y2="340.7" stroke="rgb(30,212,50)" stroke-opacity="0.626"/>
<line x1="657" y1="343.4" x2="590.8" y2="381.6" stroke="rgb(30,212,50)" stroke-opacity="0.626"/>
<line x1="657" y1="343.4" x2="580.1" y2="397.6" stroke="rgb(30,212,50)" stroke-opacity="0.626"/>
<line x1="657" y1="343.4" x2="623.2" y2="373.5" stroke="rgb(90,185,40)" stroke-opacity="0.454"/>
<line x1="657" y1="343.4" x2="661.7" y2="387.9" stroke="rgb(90,185,40)" stroke-opacity="0.454"/>
<line x1="657" y1="343.4" x2="759" y2="390.3" stroke="rgb(30,212,50)" stroke-opacity="0.626"/>
<line x1="657" y1="343.4" x2="697.8" y2="412.8" stroke="rgb(30,212,50)" stroke-opacity="0.626"/>
<line x1="657" y1="343.4" x2="670" y2="429.8" stroke="rgb(30,212,50)" stroke-opacity="0.626"/>
<line x1="657" y1="343.4" x2="701.1" y2="449.2" stroke="rgb(30,212,50)" stroke-opacity="0.626"/>
<line x1="657" y1="343.4" x2="764.7" y2="448.2" stroke="rgb(30,212,50)" stroke-opacity="0.454"/>
<line x1="691.1" y1="340.7" x2="661.7" y2="387.9" stroke="rgb(90,185,40)" stroke-opacity="0.626"/>
<line x1="691.1" y1="340.7" x2="697.8" y2="412.8" stroke="rgb(30,212,50)" stroke-opacity="0.626"/>
<line x1="691.1" y1="340.7" x2="759" y2="390.3" stroke="rgb(30,212,50)" stroke-opacity="0.626"/>
<line x1="691.1" y1="340.7" x2="701.1" y2="449.2" stroke="rgb(30,212,50)" stroke-opacity="0.454"/>
<line x1="691.1" y1="340.7" x2="670" y2="429.8" stroke="rgb(30,212,50)" stroke-opacity="0.454"/>
<line x1="691.1" y1="340.7" x2="764.7" y2="448.2" stroke="rgb(30,212,50)" stroke-opacity="0.454"/>
<line x1="623.2" y1="373.5" x2="661.7" y2="387.9" stroke="rgb(108,156,27)" stroke-opacity="0.454"/>
<line x1="623.2" y1="373.5" x2="742.5" y2="342.7" stroke="rgb(102,164,20)" stroke-opacity="0.302"/>
<line x1="623.2" y1="373.5" x2="717.2" y2="314.2" stroke="rgb(102,164,20)" stroke-opacity="0.302"/>
<line x1="661.7" y1="387.9" x2="670" y2="429.8" stroke="rgb(90,185,40)" stroke-opacity="0.454"/>
<line x1="661.7" y1="387.9" x2="697.8" y2="412.8" stroke="rgb(90,185,40)" stroke-opacity="0.454"/>
<line x1="661.7" y1="387.9" x2="717.2" y2="314.2" stroke="rgb(102,164,20)" stroke-opacity="0.302"/>
<line x1="661.7" y1="387.9" x2="759" y2="390.3" stroke="rgb(90,185,40)" stroke-opacity="0.302"/>
<line x1="698.1" y1="413.6" x2="759.1" y2="390.6" stroke="rgb(30,212,50)" stroke-opacity="0.81"/>
<line x1="697.7" y1="412.5" x2="758.7" y2="389.5" stroke="rgb(30,212,50)" stroke-opacity="0.81"/>
<line x1="697.8" y1="412.8" x2="670" y2="429.8" stroke="rgb(30,212,50)" stroke-opacity="0.626"/>
<line x1="697.8" y1="412.8" x2="701.1" y2="449.2" stroke="rgb(30,212,50)" stroke-opacity="0.454"/>
<line x1="670" y1="429.8" x2="701.1" y2="449.2" stroke="rgb(30,212,50)" stroke-opacity="0.626"/>
<line x1="701.1" y1="449.2" x2="687.4" y2="514.2" stroke="rgb(30,212,50)" stroke-opacity="0.626"/>
<line x1="701.1" y1="449.2" x2="759" y2="390.3" stroke="rgb(30,212,50)" stroke-opacity="0.626"/>
<line x1="764.7" y1="448.2" x2="759" y2="390.3" stroke="rgb(30,212,50)" stroke-opacity="0.626"/>
</g>
<rect x="524" y="0" width="1.1" height="540" fill="#000"/>
<g>
<circle cx="11" cy="25.9" r="5.9" fill="#0edb0e"/>
<circle cx="121.4" cy="62.4" r="5.9" fill="#0edb0e"/>
<circle cx="212.4" cy="66.8" r="5.9" fill="#0edb0e"/>
<circle cx="273.6" cy="49.7" r="5.9" fill="#0edb0e"/>
<circle cx="123.4" cy="102.2" r="5.9" fill="#0edb0e"/>
<circle cx="34.8" cy="127" r="5.9" fill="#0edb0e"/>
<circle cx="94" cy="139.3" r="5.9" fill="#0edb0e"/>
<circle cx="121" cy="137.7" r="5.9" fill="#0edb0e"/>
<circle cx="167.6" cy="117.9" r="5.9" fill="#0edb0e"/>
<circle cx="202.7" cy="123.6" r="5.9" fill="#0edb0e"/>
<circle cx="116.7" cy="168.1" r="5.9" fill="#0edb0e"/>
<circle cx="206.4" cy="179.7" r="5.9" fill="#0edb0e"/>
<circle cx="181" cy="217.7" r="5.9" fill="#0edb0e"/>
<circle cx="238.9" cy="92.8" r="5.9" fill="#d91ef0"/>
<circle cx="270.1" cy="88.2" r="5.9" fill="#d91ef0"/>
<circle cx="293" cy="115.6" r="5.9" fill="#d91ef0"/>
<circle cx="276" cy="155" r="5.9" fill="#d91ef0"/>
<circle cx="301.3" cy="36" r="5.9" fill="#d91ef0"/>
<circle cx="301.3" cy="73.8" r="5.9" fill="#d91ef0"/>
<circle cx="399.3" cy="30.6" r="5.9" fill="#d91ef0"/>
<circle cx="381.2" cy="51.4" r="5.9" fill="#d91ef0"/>
<circle cx="334" cy="65.7" r="5.9" fill="#d91ef0"/>
<circle cx="334.4" cy="104.2" r="5.9" fill="#d91ef0"/>
<circle cx="363.1" cy="110.2" r="5.9" fill="#d91ef0"/>
<circle cx="404.3" cy="116.6" r="5.9" fill="#d91ef0"/>
<circle cx="400.6" cy="131" r="5.9" fill="#d91ef0"/>
<circle cx="413.6" cy="129.6" r="5.9" fill="#d91ef0"/>
<circle cx="401.6" cy="145.7" r="5.9" fill="#d91ef0"/>
<circle cx="415" cy="144.7" r="5.9" fill="#d91ef0"/>
<circle cx="408.3" cy="158.4" r="5.9" fill="#d91ef0"/>
<circle cx="335.7" cy="154.4" r="5.9" fill="#d91ef0"/>
<circle cx="297.7" cy="206.3" r="5.9" fill="#d91ef0"/>
<circle cx="235" cy="229.4" r="5.9" fill="#d91ef0"/>
<circle cx="354.4" cy="242.1" r="5.9" fill="#d91ef0"/>
<circle cx="498.6" cy="283.9" r="5.9" fill="#d91ef0"/>
<circle cx="489.9" cy="310.6" r="5.9" fill="#d91ef0"/>
<circle cx="156.9" cy="300.9" r="5.9" fill="#ee2ab4"/>
<circle cx="109" cy="334.4" r="5.9" fill="#ee2ab4"/>
<circle cx="117.4" cy="344.4" r="5.9" fill="#ee2ab4"/>
<circle cx="186.3" cy="351.4" r="5.9" fill="#ee2ab4"/>
<circle cx="348.8" cy="211.3" r="5.9" fill="#0000dd"/>
<circle cx="325.7" cy="232.7" r="5.9" fill="#0000dd"/>
<circle cx="300.3" cy="259.1" r="5.9" fill="#0000dd"/>
<circle cx="256.5" cy="279.5" r="5.9" fill="#0000dd"/>
<circle cx="223.5" cy="292.6" r="5.9" fill="#0000dd"/>
<circle cx="388.2" cy="278.5" r="5.9" fill="#0000dd"/>
<circle cx="311.3" cy="300.9" r="5.9" fill="#0000dd"/>
<circle cx="353.1" cy="297.6" r="5.9" fill="#0000dd"/>
<circle cx="353.4" cy="310" r="5.9" fill="#0000dd"/>
<circle cx="267.5" cy="319.7" r="5.9" fill="#0000dd"/>
<circle cx="229" cy="325.4" r="5.9" fill="#0000dd"/>
<circle cx="332.4" cy="333.7" r="5.9" fill="#0000dd"/>
<circle cx="303.3" cy="343.7" r="5.9" fill="#0000dd"/>
<circle cx="439" cy="307.6" r="5.9" fill="#0000dd"/>
<circle cx="247.8" cy="382.3" r="5.9" fill="#0000dd"/>
<circle cx="257.9" cy="391" r="5.9" fill="#0000dd"/>
<circle cx="266.9" cy="380.6" r="5.9" fill="#0000dd"/>
<circle cx="273.6" cy="392.3" r="5.9" fill="#0000dd"/>
<circle cx="284.6" cy="385.6" r="5.9" fill="#0000dd"/>
<circle cx="361.8" cy="381.3" r="5.9" fill="#0000dd"/>
<circle cx="201.7" cy="472.6" r="5.9" fill="#f5a04a"/>
<circle cx="191.6" cy="514" r="5.9" fill="#f5a04a"/>
<circle cx="756.3" cy="26.1" r="6.2" fill="#ee22ee"/>
<circle cx="772.4" cy="33.4" r="6.2" fill="#ee22ee"/>
<circle cx="670" cy="38.5" r="6.2" fill="#ee22ee"/>
<circle cx="649.3" cy="42.8" r="6.2" fill="#ee22ee"/>
<circle cx="629.6" cy="49.5" r="6.2" fill="#ee22ee"/>
<circle cx="689.8" cy="47.5" r="6.2" fill="#ee22ee"/>
<circle cx="611.2" cy="60.9" r="6.2" fill="#ee22ee"/>
<circle cx="669.4" cy="62.2" r="6.2" fill="#ee22ee"/>
<circle cx="648.6" cy="68.2" r="6.2" fill="#ee22ee"/>
<circle cx="627.6" cy="76.4" r="6.2" fill="#ee22ee"/>
<circle cx="601.5" cy="80.4" r="6.2" fill="#ee22ee"/>
<circle cx="724.5" cy="82.4" r="6.2" fill="#ee22ee"/>
<circle cx="617.5" cy="118.8" r="6.2" fill="#ee22ee"/>
<circle cx="587.8" cy="137" r="6.2" fill="#ee22ee"/>
<circle cx="660.3" cy="143.3" r="6.2" fill="#ee22ee"/>
<circle cx="728.2" cy="134.2" r="6.2" fill="#ee22ee"/>
<circle cx="806.2" cy="165.4" r="6.2" fill="#ee22ee"/>
<circle cx="588.8" cy="212.1" r="6.2" fill="#ee22ee"/>
<circle cx="629.6" cy="190.6" r="6.2" fill="#ee22ee"/>
<circle cx="792.8" cy="196.3" r="6.2" fill="#ee22ee"/>
<circle cx="634.2" cy="274.7" r="6.2" fill="#ee22ee"/>
<circle cx="773.7" cy="160.4" r="6.2" fill="#ac1c06"/>
<circle cx="764" cy="172.8" r="6.2" fill="#ac1c06"/>
<circle cx="749" cy="178.7" r="6.2" fill="#ac1c06"/>
<circle cx="698.1" cy="240.2" r="6.2" fill="#ac1c06"/>
<circle cx="716.9" cy="240.2" r="6.2" fill="#ac1c06"/>
<circle cx="683.7" cy="261.9" r="6.2" fill="#ac1c06"/>
<circle cx="738" cy="261.2" r="6.2" fill="#ac1c06"/>
<circle cx="839.3" cy="377.2" r="6.2" fill="#ac1c06"/>
<circle cx="699.5" cy="217.8" r="6.2" fill="#7070f6"/>
<circle cx="774" cy="247.9" r="6.2" fill="#7070f6"/>
<circle cx="829" cy="295.8" r="6.2" fill="#7070f6"/>
<circle cx="835" cy="161.4" r="6.2" fill="#0000e0"/>
<circle cx="838.7" cy="186.9" r="6.2" fill="#0000e0"/>
<circle cx="823.3" cy="221.1" r="6.2" fill="#0000e0"/>
<circle cx="844.4" cy="215.1" r="6.2" fill="#0000e0"/>
<circle cx="868.1" cy="261.2" r="6.2" fill="#0000e0"/>
<circle cx="787.2" cy="318.2" r="6.2" fill="#0000e0"/>
<circle cx="856.1" cy="336.4" r="6.2" fill="#0000e0"/>
<circle cx="792.8" cy="418.8" r="6.2" fill="#0000e0"/>
<circle cx="828.6" cy="425.5" r="6.2" fill="#0000e0"/>
<circle cx="882.8" cy="396" r="6.2" fill="#0000e0"/>
<circle cx="731.9" cy="219.1" r="6.2" fill="#70cc10"/>
<circle cx="820.3" cy="256.6" r="6.2" fill="#70cc10"/>
<circle cx="690.4" cy="288.8" r="6.2" fill="#70cc10"/>
<circle cx="768.7" cy="288.1" r="6.2" fill="#70cc10"/>
<circle cx="717.2" cy="314.2" r="6.2" fill="#70cc10"/>
<circle cx="742.5" cy="342.7" r="6.2" fill="#70cc10"/>
<circle cx="805.4" cy="348.4" r="6.2" fill="#70cc10"/>
<circle cx="853.1" cy="308.8" r="6.2" fill="#70cc10"/>
<circle cx="623.2" cy="373.5" r="6.2" fill="#80b820"/>
<circle cx="661.7" cy="387.9" r="6.2" fill="#80b820"/>
<circle cx="657" cy="343.4" r="6.2" fill="#00f020"/>
<circle cx="691.1" cy="340.7" r="6.2" fill="#00f020"/>
<circle cx="590.8" cy="381.6" r="6.2" fill="#00f020"/>
<circle cx="580.1" cy="397.6" r="6.2" fill="#00f020"/>
<circle cx="759" cy="390.3" r="6.2" fill="#00f020"/>
<circle cx="697.8" cy="412.8" r="6.2" fill="#00f020"/>
<circle cx="670" cy="429.8" r="6.2" fill="#00f020"/>
<circle cx="701.1" cy="449.2" r="6.2" fill="#00f020"/>
<circle cx="764.7" cy="448.2" r="6.2" fill="#00f020"/>
<circle cx="687.4" cy="514.2" r="6.2" fill="#00f020"/>
</g>
<ellipse cx="18.2" cy="422.2" rx="8.3" ry="7.8" fill="#1a3fe6" stroke="#2440d8" stroke-width="0.8"/>
<ellipse cx="17.3" cy="445.8" rx="7.4" ry="7.4" fill="#55e811" stroke="#2f6f35" stroke-width="1.5"/>
<ellipse cx="17.4" cy="469.8" rx="7.4" ry="7.4" fill="#e84cc0" stroke="#5a3a80" stroke-width="1.5"/>
<ellipse cx="17.4" cy="494.6" rx="7.4" ry="7.4" fill="#dd55ff" stroke="#5a3aa8" stroke-width="1.5"/>
<ellipse cx="17.4" cy="519.5" rx="7.4" ry="7.4" fill="#f5a04a" stroke="#6a5a60" stroke-width="1.5"/>
<ellipse cx="539.4" cy="456" rx="7.5" ry="7.5" fill="#7474f8" stroke="#4a4ab0" stroke-width="1.3"/>
<ellipse cx="562" cy="456" rx="8" ry="7.8" fill="#1a3fe6" stroke="#2440d8" stroke-width="0.8"/>
<ellipse cx="540.7" cy="479.4" rx="7.4" ry="7.4" fill="#66e61a" stroke="#2f6f35" stroke-width="1.5"/>
<ellipse cx="562" cy="479.6" rx="7.4" ry="7.4" fill="#70c818" stroke="#2f6f35" stroke-width="1.5"/>
<ellipse cx="540.7" cy="502.5" rx="7.4" ry="7.4" fill="#dd55ff" stroke="#5a3aa8" stroke-width="1.5"/>
<ellipse cx="541" cy="526.5" rx="7.4" ry="7.4" fill="#b3281c" stroke="#40305c" stroke-width="1.5"/>
</svg>
<div class="lg" style="left:33.6px;top:413.6px;letter-spacing:0.4px">Development</div>
<div class="lg" style="left:33.7px;top:436.5px;letter-spacing:0.25px">NRM</div>
<div class="lg" style="left:33.7px;top:460.8px;letter-spacing:0.05px">Human Rights</div>
<div class="lg" style="left:33.7px;top:485.9px;letter-spacing:0.36px">Government</div>
<div class="lg" style="left:34px;top:511px;letter-spacing:0.38px">Agriculture</div>
<div class="lg" style="left:576.5px;top:446.5px;letter-spacing:0.4px">Development</div>
<div class="lg" style="left:576.5px;top:470.1px;letter-spacing:0.3px">NRM</div>
<div class="lg" style="left:556.5px;top:493px;letter-spacing:0.4px">Government</div>
<div class="lg" style="left:557.5px;top:516.9px;letter-spacing:0.3px">Agroforestry</div>
</body></html>
